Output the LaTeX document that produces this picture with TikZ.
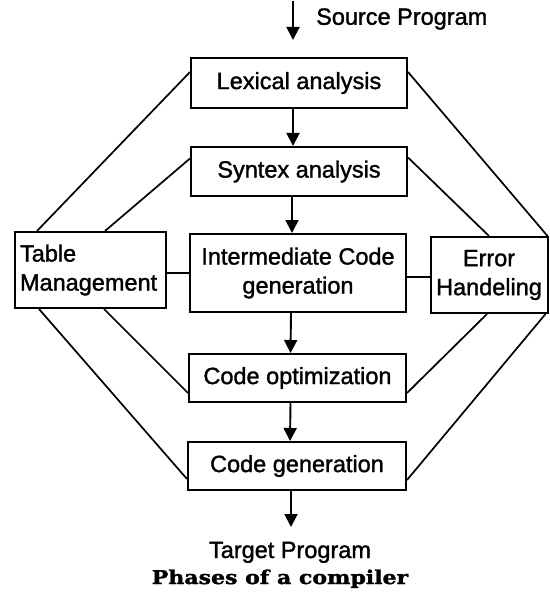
\documentclass[tikz,border=0pt]{standalone}
\usepackage{fontspec}
\setmainfont{Liberation Sans}[FakeBold=1.4]
\newfontfamily\phfont{DejaVu Serif}[FakeBold=1.5]
\usetikzlibrary{arrows.meta,calc}
\begin{document}
\begin{tikzpicture}[x=1pt,y=-1pt,
  box/.style={draw,line width=2pt,inner sep=0pt,align=center,font=\fontsize{23.5}{29}\selectfont},
  link/.style={line width=1.7pt},
  flow/.style={line width=1.9pt,-{Triangle[width=13pt,length=13pt]}},
  lbl/.style={font=\fontsize{23.5}{29}\selectfont,inner sep=0pt}]
\useasboundingbox (0,0) rectangle (549,596);
\node[box,minimum width=216pt,minimum height=50pt] (lex) at (299,83) {Lexical analysis};
\node[box,minimum width=216pt,minimum height=49pt] (syn) at (299,171.5) {Syntex analysis};
\node[box,minimum width=216pt,minimum height=78pt] (icg) at (298,273) {Intermediate Code\\generation};
\node[box,minimum width=151pt,minimum height=76pt,text width=141pt,align=left] (tab) at (90.5,270) {Table\\Management};
\node[box,minimum width=117pt,minimum height=76pt] (err) at (489,275) {Error\\Handeling};
\node[box,minimum width=217pt,minimum height=48pt] (co) at (297.5,378) {Code optimization};
\node[box,minimum width=218pt,minimum height=48pt] (cg) at (297,466) {Code generation};
% octagon links
\draw[link] ([yshift=11pt]lex.west) -- ([xshift=23pt]tab.north west);
\draw[link] ([yshift=13pt]syn.west) -- ([xshift=91pt]tab.north west);
\draw[link] ([yshift=11pt]lex.east) -- ([xshift=-1pt]err.north east);
\draw[link] ([yshift=14pt]syn.east) -- (err.north);
\draw[link] ([xshift=25pt]tab.south west) -- ([yshift=-13pt]cg.west);
\draw[link] ([xshift=90pt]tab.south west) -- ([yshift=-15pt]co.west);
\draw[link] ([xshift=-2pt]err.south) -- ([yshift=-15pt]co.east);
\draw[link] ([xshift=-3pt]err.south east) -- ([yshift=-14pt]cg.east);
\draw[link] ([yshift=-3pt]tab.east) -- (icg.west);
\draw[link] ([yshift=-4pt]icg.east) -- ([yshift=-2pt]err.west);
% flow arrows
\coordinate (srcA) at (293,1);
\coordinate (srcB) at (293,40);
\coordinate (tgtEnd) at (291,527);
\draw[flow] (srcA) -- (srcB);
\draw[flow] ([xshift=-6pt]lex.south) -- ([xshift=-6pt]syn.north);
\draw[flow] ([xshift=-7pt]syn.south) -- ([xshift=-6pt]icg.north);
\draw[flow] ([xshift=-7pt]icg.south) -- ([xshift=-7pt]co.north);
\draw[flow] ([xshift=-7pt]co.south) -- ([xshift=-7pt]cg.north);
\draw[flow] ([xshift=-6pt]cg.south) -- (tgtEnd);
% labels
\node[lbl,anchor=west] (src) at (316,19) {Source Program};
\node[lbl,anchor=base] (tgt) at (290,558) {Target Program};
\node[inner sep=0pt,anchor=base,font=\phfont\bfseries\fontsize{19}{21}\selectfont] (cap) at (280,584) {\scalebox{1.16}[1]{Phases of a compiler}};
\end{tikzpicture}
\end{document}
